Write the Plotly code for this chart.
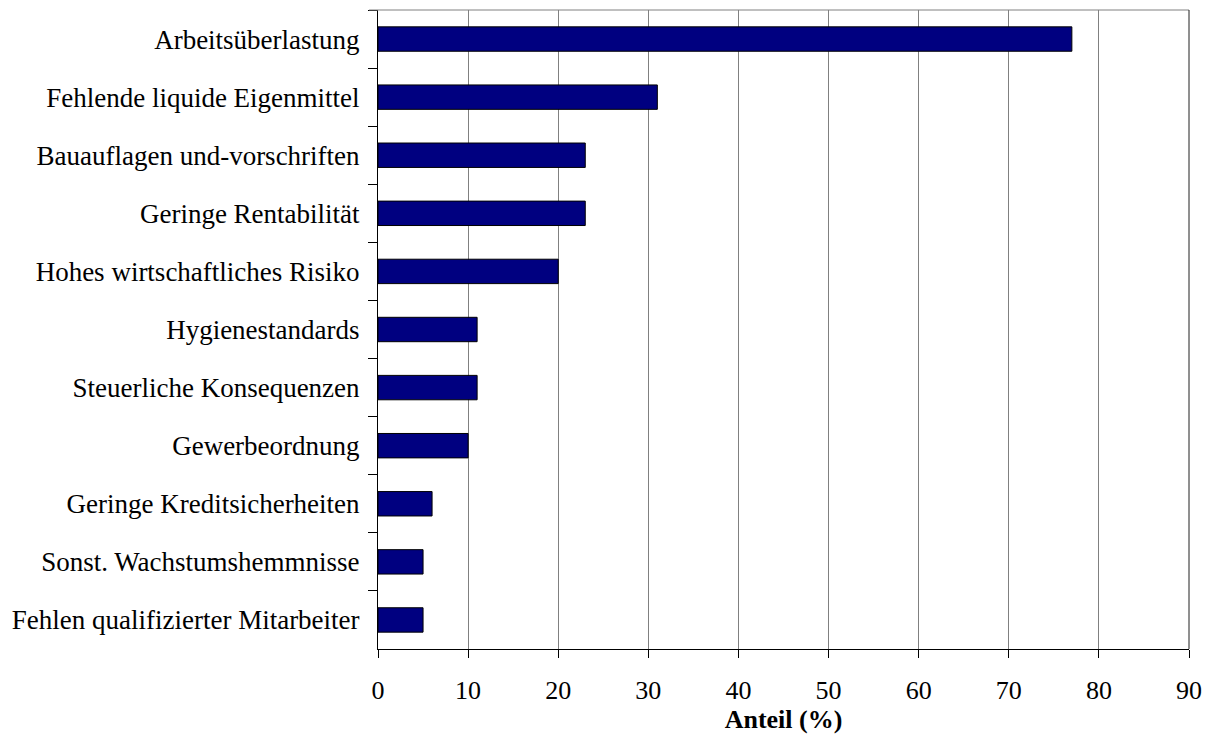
import plotly.graph_objects as go

categories = [
    "Arbeitsüberlastung",
    "Fehlende liquide Eigenmittel",
    "Bauauflagen und-vorschriften",
    "Geringe Rentabilität",
    "Hohes wirtschaftliches Risiko",
    "Hygienestandards",
    "Steuerliche Konsequenzen",
    "Gewerbeordnung",
    "Geringe Kreditsicherheiten",
    "Sonst. Wachstumshemmnisse",
    "Fehlen qualifizierter Mitarbeiter",
]
values = [77, 31, 23, 23, 20, 11, 11, 10, 6, 5, 5]
x_ticks = [0, 10, 20, 30, 40, 50, 60, 70, 80, 90]

FONT = "Liberation Serif, Times New Roman, serif"
FS = 26

fig = go.Figure(
    go.Bar(
        x=values,
        y=categories,
        orientation="h",
        marker=dict(color="#000080", line=dict(color="#000000", width=1)),
        width=0.42,
    )
)

fig.update_layout(
    width=1213,
    height=736,
    margin=dict(l=378, r=24, t=10, b=87),
    plot_bgcolor="white",
    paper_bgcolor="white",
    showlegend=False,
    font=dict(family=FONT, size=FS, color="black"),
)

fig.update_xaxes(
    range=[0, 90],
    tickvals=x_ticks,
    showgrid=True,
    gridcolor="#808080",
    gridwidth=1,
    showline=True,
    linecolor="black",
    linewidth=1,
    ticks="outside",
    ticklen=8,
    tickcolor="black",
    ticklabelstandoff=10,
    tickfont=dict(family=FONT, size=FS),
    title=dict(text="<b>Anteil (%)</b>", font=dict(family=FONT, size=FS), standoff=2),
    zeroline=False,
    automargin=False,
)

fig.update_yaxes(
    autorange="reversed",
    showline=True,
    linecolor="black",
    linewidth=1,
    ticks="outside",
    tickson="boundaries",
    ticklen=9,
    tickcolor="black",
    showgrid=False,
    ticklabelstandoff=12,
    tickfont=dict(family=FONT, size=27),
    automargin=False,
)

# top border (gray) and right border (dark)
fig.add_shape(type="line", xref="paper", yref="paper", x0=-0.011, x1=1, y0=1, y1=1,
              line=dict(color="#808080", width=1))
fig.add_shape(type="line", xref="paper", yref="paper", x0=1, x1=1, y0=0, y1=1,
              line=dict(color="#202020", width=1))

fig.write_html("out.html")
